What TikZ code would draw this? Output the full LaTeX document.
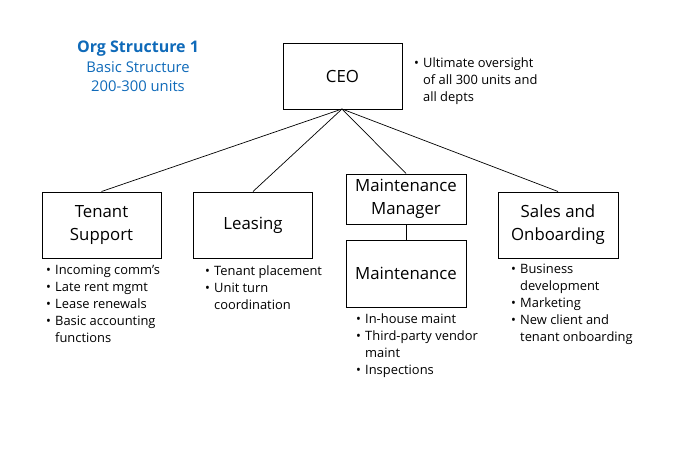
\documentclass[tikz,border=0pt]{standalone}
\usepackage{fontspec}
\setmainfont{Open Sans}
\definecolor{titleblue}{RGB}{15,106,185}
\begin{document}
\begin{tikzpicture}[x=1pt,y=-1pt,
  orgbox/.style={draw=black,line width=1pt,minimum width=119pt,inner sep=2pt,align=center,
    font=\fontsize{16.8}{23}\selectfont},
  link/.style={draw=black,line width=0.7pt},
  notes/.style={anchor=north west,inner sep=0pt,align=left,font=\fontsize{12.9}{17}\selectfont}]
\useasboundingbox (0,0) rectangle (680,458);
\newcommand{\bul}{\makebox[9pt][l]{\textbullet}}
\newcommand{\nob}{\makebox[9pt][l]{}}
\node[orgbox,minimum height=66pt] (ceo) at (342.5,76) {CEO};
\node[orgbox,minimum height=66pt] (ts) at (101.5,225) {\raisebox{-2pt}{Tenant}\\\raisebox{-2pt}{Support}};
\node[orgbox,minimum height=66pt] (lea) at (253,225) {Leasing};
\node[orgbox,minimum width=120pt,minimum height=50pt] (mm) at (406,199) {Maintenance\\Manager};
\node[orgbox,minimum width=120pt,minimum height=67pt] (mt) at (406,273.5) {Maintenance};
\node[orgbox,minimum width=120pt,minimum height=66pt] (sal) at (558,225) {\raisebox{-2pt}{Sales and}\\\raisebox{-2pt}{Onboarding}};
\coordinate (ceob) at (342,109);
\draw[link] (ceob) -- (ts.north);
\draw[link] (ceob) -- (lea.north);
\draw[link] (ceob) -- (mm.north);
\draw[link] (ceob) -- (sal.north);
\draw[link] (mm.south) -- (mt.north);
\node[anchor=north,inner sep=0pt,align=center,text=titleblue,font=\fontsize{14.8}{19.5}\selectfont] (title) at (138,41)
  {{\fontsize{16}{19.5}\selectfont\textbf{Org Structure 1}}\\Basic Structure\\200-300 units};
\node[notes] (ceon) at (414,57) {\bul Ultimate oversight\\\nob of all 300 units and\\\nob all depts};
\node[notes] (tsn) at (46,265) {\bul Incoming comm’s\\\bul Late rent mgmt\\\bul Lease renewals\\\bul Basic accounting\\\nob functions};
\node[notes] (lean) at (205,265) {\bul Tenant placement\\\bul Unit turn\\\nob coordination};
\node[notes] (mtn) at (356,313) {\bul In-house maint\\\bul Third-party vendor\\\nob maint\\\bul Inspections};
\node[notes] (saln) at (511,264) {\bul Business\\\nob development\\\bul Marketing\\\bul New client and\\\nob tenant onboarding};
\end{tikzpicture}
\end{document}
